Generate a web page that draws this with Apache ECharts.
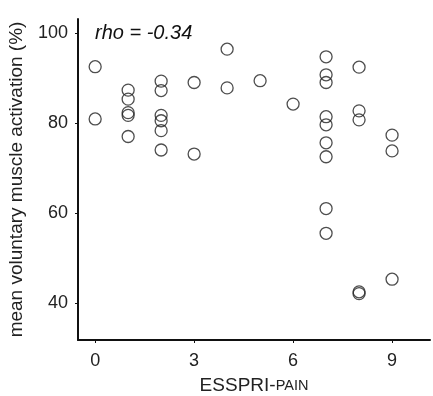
<!DOCTYPE html>
<html>
<head>
<meta charset="utf-8">
<style>
  html, body { margin: 0; padding: 0; background: #fff; }
  #chart { width: 433px; height: 396px; }
</style>
<script src="https://cdn.jsdelivr.net/npm/echarts@6.0.0/dist/echarts.min.js"></script>
</head>
<body>
<div id="chart"></div>
<script>
// ESSPRI pain score per subject
const painScore = [
  0, 0,
  1, 1, 1, 1, 1,
  2, 2, 2, 2, 2, 2,
  3, 3,
  4, 4,
  5,
  6,
  7, 7, 7, 7, 7, 7, 7, 7, 7,
  8, 8, 8, 8, 8,
  9, 9, 9
]
// mean voluntary muscle activation (%)
const activation = [
  92.5, 80.9,
  87.3, 85.3, 82.3, 81.7, 77.0,
  89.3, 87.2, 81.7, 80.5, 78.3, 74.0,
  89.0, 73.1,
  96.4, 87.8,
  89.4,
  84.2,
  94.7, 90.7, 89.0, 81.4, 79.6, 75.6, 72.5, 61.0, 55.5,
  92.4, 82.7, 80.7, 42.5, 42.1,
  77.3, 73.8, 45.3
]
const xTicks = [0, 3, 6, 9]
const yTicks = [40, 60, 80, 100]
const rhoText = "rho = -0.34"

const points = painScore.map((x, i) => [x, activation[i]])

const chart = echarts.init(document.getElementById("chart"))

const font = "Liberation Sans, Arial, sans-serif"

chart.setOption({
  animation: false,
  grid: { left: 78, right: 3, top: 19, bottom: 56, outerBoundsMode: "none", containLabel: false },
  xAxis: {
    type: "value",
    min: -0.52,
    max: 10.15,
    name: "{a|ESSPRI-}{b|PAIN}",
    nameLocation: "middle",
    nameGap: 36,
    nameTextStyle: {
      rich: {
        a: { fontSize: 19, color: "#222", fontFamily: font },
        b: { fontSize: 14.5, color: "#222", fontFamily: font }
      }
    },
    splitLine: { show: false },
    axisLine: { onZero: false, lineStyle: { color: "#111", width: 2 } },
    axisTick: { show: true, length: 3, customValues: xTicks, lineStyle: { color: "#111" } },
    axisLabel: { customValues: xTicks, fontSize: 18, color: "#222", fontFamily: font, margin: 12 }
  },
  yAxis: {
    type: "value",
    min: 31.8,
    max: 103.1,
    name: "mean voluntary muscle activation (%)",
    nameLocation: "middle",
    nameGap: 52,
    nameTextStyle: { fontSize: 19, color: "#222", fontFamily: font },
    splitLine: { show: false },
    axisLine: { show: true, onZero: false, lineStyle: { color: "#111", width: 2 } },
    axisTick: { show: true, length: 3, customValues: yTicks, lineStyle: { color: "#111" } },
    axisLabel: { customValues: yTicks, fontSize: 18, color: "#222", fontFamily: font, margin: 10 }
  },
  graphic: [{
    type: "text",
    left: 95,
    top: 23,
    style: {
      text: rhoText,
      font: "italic 20px Liberation Sans, Arial, sans-serif",
      fill: "#111"
    }
  }],
  series: [{
    type: "scatter",
    data: points,
    symbol: "circle",
    symbolSize: 12,
    itemStyle: { color: "rgba(255,255,255,0)", borderColor: "#222", borderWidth: 1.3 }
  }]
})
</script>
</body>
</html>
